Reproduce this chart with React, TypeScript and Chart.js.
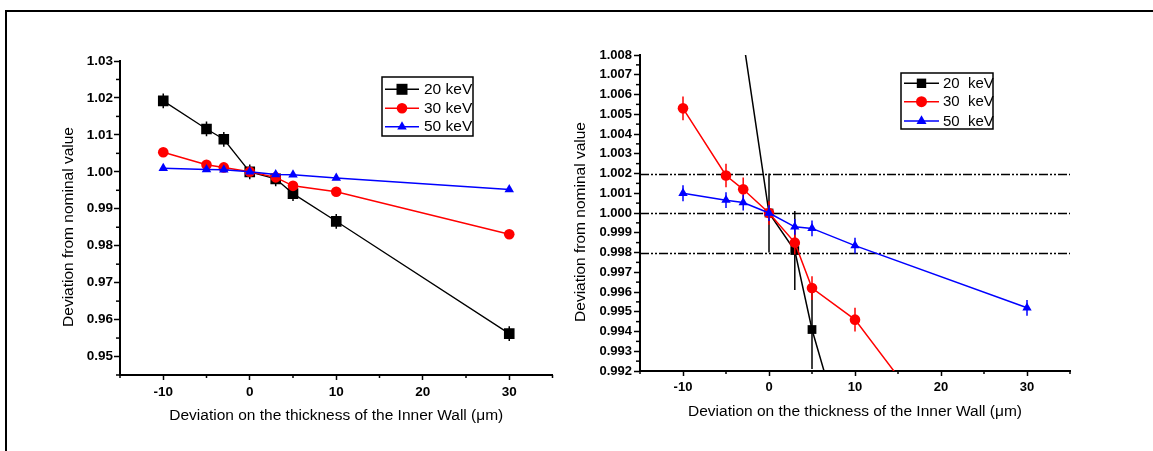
import React, { useEffect, useRef } from 'react';
import { Chart, registerables } from 'chart.js';

Chart.register(...registerables);

const FONT = '"Liberation Sans", Arial, Helvetica, sans-serif';

// ---------------- data ----------------
const thicknessUm = [-10, -5, -3, 0, 3, 5, 10, 30];
const dev20keV = [1.0192, 1.0116, 1.0088, 1.0, 0.9981, 0.9941, 0.9866, 0.9562];
const dev30keV = [1.0053, 1.0019, 1.0012, 1.0, 0.9985, 0.9962, 0.9946, 0.9831];
const dev50keV = [1.001, 1.00065, 1.00053, 1.0, 0.9993, 0.99922, 0.99835, 0.9952];
const err20keV = [0.002, 0.002, 0.002, 0.002, 0.002, 0.002, 0.002, 0.002];
const err30keV = [0.0006, 0.0006, 0.0006, 0.0006, 0.0006, 0.0006, 0.0006, 0.0006];
const err50keV = [0.0004, 0.0004, 0.0004, 0.0004, 0.0004, 0.0004, 0.0004, 0.0004];
const seriesLabelsLeft = ['20 keV', '30 keV', '50 keV'];
const seriesLabelsRight = ['20  keV', '30  keV', '50  keV'];
const xTickValues = [-10, 0, 10, 20, 30];
const leftYTicks = [0.95, 0.96, 0.97, 0.98, 0.99, 1.0, 1.01, 1.02, 1.03];
const rightYTicks = [0.992, 0.993, 0.994, 0.995, 0.996, 0.997, 0.998, 0.999, 1.0, 1.001, 1.002, 1.003, 1.004, 1.005, 1.006, 1.007, 1.008];
const toleranceLines = [1.002, 1.0, 0.998];
const xTitle = 'Deviation on the thickness of the Inner Wall (\u03bcm)';
const yTitle = 'Deviation from nominal value';

const seriesValues = [dev20keV, dev30keV, dev50keV];
const seriesErrors = [err20keV, err30keV, err50keV];

// ---------------- styles ----------------
const seriesStyles = [
  { color: '#000000', marker: 'rect', order: 3 },
  { color: '#ff0000', marker: 'circle', order: 2 },
  { color: '#0000ff', marker: 'triangle', order: 1 },
];

const leftPanel = {
  canvasLeft: 0, width: 560, height: 451,
  pad: { left: 0, top: 61, right: 7, bottom: 0 },
  yAxisW: 120, xAxisH: 76,
  xMin: -15, xMax: 35, yMin: 0.945, yMax: 1.03,
  yTicks: leftYTicks, yDecimals: 2, tickFont: 13.5, yTickPad: 1,
  xTitlePad: 26, titleFont: 15.5,
  yTitleX: 69, yTitleY: 227,
  refLines: [] as number[],
  pointRadius: { rect: 7.5, circle: 5.3, triangle: 5.5 },
  lineWidth: [1.3, 1.5, 1.5],
  legend: {
    x: 382, y: 77, w: 91, h: 59, line0: 385, line1: 419, markerX: 402, textX: 424,
    rows: [89.3, 108.3, 126.7], font: 15.5, labels: seriesLabelsLeft,
    size: { rect: 5.5, circle: 5.3, triangle: 5.5 },
  },
};

const rightPanel = {
  canvasLeft: 560, width: 593, height: 451,
  pad: { left: 0, top: 55, right: 83, bottom: 0 },
  yAxisW: 80, xAxisH: 80,
  xMin: -15, xMax: 35, yMin: 0.992, yMax: 1.008,
  yTicks: rightYTicks, yDecimals: 3, tickFont: 13, yTickPad: 2,
  xTitlePad: 30, titleFont: 15.5,
  yTitleX: 21, yTitleY: 222,
  refLines: toleranceLines,
  pointRadius: { rect: 6.2, circle: 5.3, triangle: 5.4 },
  lineWidth: [1.5, 1.5, 1.5],
  legend: {
    x: 341, y: 73, w: 92, h: 56, line0: 344, line1: 379, markerX: 361.5, textX: 383,
    rows: [83.3, 101.7, 121], font: 15, labels: seriesLabelsRight,
    size: { rect: 4.7, circle: 5.5, triangle: 5.8 },
  },
};

type PanelCfg = typeof leftPanel;

function drawMarker(ctx: CanvasRenderingContext2D, kind: string, x: number, y: number, s: number) {
  ctx.beginPath();
  if (kind === 'rect') ctx.rect(x - s, y - s, 2 * s, 2 * s);
  else if (kind === 'circle') ctx.arc(x, y, s, 0, Math.PI * 2);
  else {
    ctx.moveTo(x, y - s);
    ctx.lineTo(x + s * 0.866, y + s / 2);
    ctx.lineTo(x - s * 0.866, y + s / 2);
    ctx.closePath();
  }
  ctx.fill();
}

function minorValues(ticks: number[], min: number, max: number) {
  const out: number[] = [];
  const step = ticks[1] - ticks[0];
  const eps = step * 1e-6;
  const cand = [ticks[0] - step / 2];
  for (let i = 0; i < ticks.length - 1; i++) cand.push((ticks[i] + ticks[i + 1]) / 2);
  cand.push(ticks[ticks.length - 1] + step / 2);
  cand.forEach((v) => { if (v >= min - eps && v <= max + eps) out.push(v); });
  return out;
}

function makePlugin(cfg: PanelCfg) {
  return {
    id: 'panelExtras',
    beforeDatasetsDraw(chart: any) {
      const { ctx, chartArea } = chart;
      const y = chart.scales.y;
      ctx.save();
      ctx.strokeStyle = '#000';
      ctx.lineWidth = 1.5;
      ctx.setLineDash([9, 2, 2, 2, 2, 2]);
      cfg.refLines.forEach((v: number) => {
        const py = Math.round(y.getPixelForValue(v)) + 0.5;
        ctx.beginPath();
        ctx.moveTo(chartArea.left, py);
        ctx.lineTo(chartArea.right, py);
        ctx.stroke();
      });
      ctx.restore();
    },
    afterDatasetDraw(chart: any, args: any) {
      const ds = chart.data.datasets[args.index];
      const errs: number[] = ds.errors;
      if (!errs) return;
      const { ctx, chartArea } = chart;
      const xs = chart.scales.x;
      const ys = chart.scales.y;
      ctx.save();
      ctx.beginPath();
      ctx.rect(chartArea.left, chartArea.top, chartArea.right - chartArea.left, chartArea.bottom - chartArea.top);
      ctx.clip();
      ctx.strokeStyle = ds.borderColor;
      ctx.lineWidth = 1.5;
      ds.data.forEach((p: any, i: number) => {
        if (p.y < cfg.yMin || p.y > cfg.yMax) return;
        const px = xs.getPixelForValue(p.x);
        ctx.beginPath();
        ctx.moveTo(px, ys.getPixelForValue(p.y + errs[i]));
        ctx.lineTo(px, ys.getPixelForValue(p.y - errs[i]));
        ctx.stroke();
      });
      ctx.restore();
    },
    afterDraw(chart: any) {
      const { ctx, chartArea } = chart;
      const xs = chart.scales.x;
      const ys = chart.scales.y;
      ctx.save();
      // minor ticks
      ctx.strokeStyle = '#000';
      ctx.lineWidth = 1.5;
      minorValues(xTickValues, cfg.xMin, cfg.xMax).forEach((v) => {
        const px = xs.getPixelForValue(v);
        ctx.beginPath();
        ctx.moveTo(px, chartArea.bottom);
        ctx.lineTo(px, chartArea.bottom + 3);
        ctx.stroke();
      });
      minorValues(cfg.yTicks, cfg.yMin, cfg.yMax).forEach((v) => {
        const py = ys.getPixelForValue(v);
        ctx.beginPath();
        ctx.moveTo(chartArea.left, py);
        ctx.lineTo(chartArea.left - 4, py);
        ctx.stroke();
      });
      // y-axis title
      ctx.fillStyle = '#000';
      ctx.font = `${cfg.titleFont}px ${FONT}`;
      ctx.textAlign = 'center';
      ctx.textBaseline = 'middle';
      ctx.translate(cfg.yTitleX, cfg.yTitleY);
      ctx.rotate(-Math.PI / 2);
      ctx.fillText(yTitle, 0, 0);
      ctx.restore();

      // legend
      const L = cfg.legend;
      ctx.save();
      ctx.fillStyle = '#fff';
      ctx.fillRect(L.x, L.y, L.w, L.h);
      ctx.strokeStyle = '#000';
      ctx.lineWidth = 1.5;
      ctx.strokeRect(L.x, L.y, L.w, L.h);
      ctx.font = `${L.font}px ${FONT}`;
      ctx.textAlign = 'left';
      ctx.textBaseline = 'middle';
      seriesStyles.forEach((s, i) => {
        const ry = L.rows[i];
        ctx.strokeStyle = s.color;
        ctx.lineWidth = 1.5;
        ctx.beginPath();
        ctx.moveTo(L.line0, ry);
        ctx.lineTo(L.line1, ry);
        ctx.stroke();
        ctx.fillStyle = s.color;
        drawMarker(ctx, s.marker, L.markerX, ry, (L.size as any)[s.marker]);
        ctx.fillStyle = '#000';
        ctx.fillText(L.labels[i], L.textX, ry + 0.5);
      });
      ctx.restore();
    },
  };
}

function buildConfig(cfg: PanelCfg): any {
  const datasets = seriesStyles.map((s, i) => ({
    label: cfg.legend.labels[i],
    data: thicknessUm.map((x, j) => ({ x, y: seriesValues[i][j] })),
    errors: seriesErrors[i],
    borderColor: s.color,
    backgroundColor: s.color,
    pointBackgroundColor: s.color,
    pointBorderColor: s.color,
    pointBorderWidth: 0,
    pointStyle: s.marker,
    pointRadius: (cfg.pointRadius as any)[s.marker],
    borderWidth: cfg.lineWidth[i],
    tension: 0,
    order: s.order,
    fill: false,
  }));
  return {
    type: 'line',
    data: { datasets },
    plugins: [makePlugin(cfg)],
    options: {
      responsive: false,
      maintainAspectRatio: false,
      animation: false,
      devicePixelRatio: 1,
      events: [],
      layout: { padding: cfg.pad },
      plugins: { legend: { display: false }, tooltip: { enabled: false }, title: { display: false } },
      scales: {
        x: {
          type: 'linear',
          min: cfg.xMin,
          max: cfg.xMax,
          afterBuildTicks: (s: any) => { s.ticks = xTickValues.map((v) => ({ value: v })); },
          afterFit: (s: any) => { s.height = cfg.xAxisH; },
          grid: { display: true, drawOnChartArea: false, drawTicks: true, tickLength: 5, tickColor: '#000', tickWidth: 1.5, color: '#000' },
          border: { display: true, color: '#000', width: 2 },
          ticks: {
            color: '#000', padding: 4, maxRotation: 0, autoSkip: false,
            font: { family: FONT, size: cfg.tickFont, weight: 'bold' },
            callback: (v: any) => String(v),
          },
          title: {
            display: true, text: xTitle, color: '#000',
            font: { family: FONT, size: cfg.titleFont, weight: 'normal' },
            padding: { top: 0, bottom: cfg.xTitlePad },
          },
        },
        y: {
          type: 'linear',
          min: cfg.yMin,
          max: cfg.yMax,
          afterBuildTicks: (s: any) => { s.ticks = cfg.yTicks.map((v) => ({ value: v })); },
          afterFit: (s: any) => { s.width = cfg.yAxisW; },
          grid: { display: true, drawOnChartArea: false, drawTicks: true, tickLength: 6, tickColor: '#000', tickWidth: 1.5, color: '#000' },
          border: { display: true, color: '#000', width: 2 },
          ticks: {
            color: '#000', padding: cfg.yTickPad, autoSkip: false,
            font: { family: FONT, size: cfg.tickFont, weight: 'bold' },
            callback: (v: any) => Number(v).toFixed(cfg.yDecimals),
          },
          title: { display: false },
        },
      },
    },
  };
}

function Panel({ cfg }: { cfg: PanelCfg }) {
  const ref = useRef<HTMLCanvasElement>(null);
  useEffect(() => {
    if (!ref.current) return;
    const chart = new Chart(ref.current, buildConfig(cfg));
    return () => chart.destroy();
  }, [cfg]);
  return (
    <canvas
      ref={ref}
      width={cfg.width}
      height={cfg.height}
      style={{ position: 'absolute', left: cfg.canvasLeft, top: 0, width: cfg.width, height: cfg.height }}
    />
  );
}

export default function App() {
  return (
    <div style={{ position: 'fixed', left: 0, top: 0, width: 1153, height: 451, overflow: 'hidden', background: '#fff' }}>
      <div
        style={{
          position: 'absolute', left: 5, top: 10, width: 1200, height: 500,
          borderTop: '2px solid #000', borderLeft: '2px solid #000', boxSizing: 'border-box',
        }}
      />
      <Panel cfg={leftPanel} />
      <Panel cfg={rightPanel as PanelCfg} />
    </div>
  );
}
